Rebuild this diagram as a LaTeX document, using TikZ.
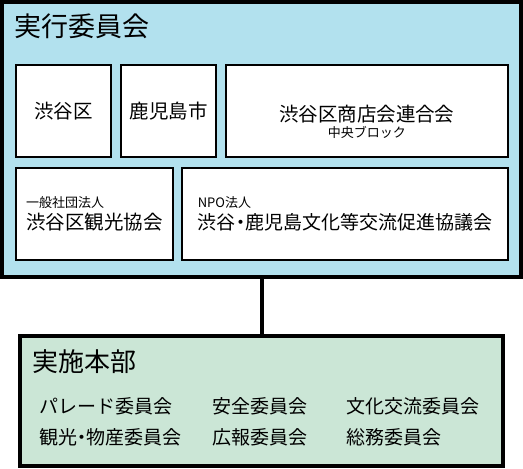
\documentclass[tikz,border=0pt]{standalone}
\usepackage{fontspec}
\setmainfont{Noto Sans CJK JP}
\usetikzlibrary{positioning}
\definecolor{execblue}{RGB}{178,225,238}
\definecolor{teamgreen}{RGB}{203,230,214}

\begin{document}
\begin{tikzpicture}[x=1pt,y=-1pt,
    group_exec/.style ={rectangle, draw=black, line width=4pt, fill=execblue,
      inner sep=0pt, minimum width=519pt, minimum height=275pt},
    group_team/.style ={rectangle, draw=black, line width=4pt, fill=teamgreen,
      inner sep=0pt, minimum width=483pt, minimum height=130pt},
    block_member/.style ={rectangle, draw=black, line width=2pt, fill=white,
      inner sep=0pt, minimum height=92pt, align=center,
      font=\fontsize{19.5}{22.6}\selectfont},
    block_title/.style ={anchor=west, inner sep=0pt,
      font=\fontsize{27}{30}\selectfont},
    block_item/.style ={anchor=west, inner sep=0pt,
      font=\fontsize{19}{22}\selectfont},
    line/.style ={draw, line width=4pt}]
    \useasboundingbox (0,0) rectangle (523,469);
    % executive committee
    \node [group_exec] (exec) at (261.5,139.5) {};
    \node [block_title] (exec_title) at (14,26) {実行委員会};
    % members - row 1
    \node [block_member, minimum width=95pt, anchor=north west] (shibuya) at (15,64) {渋谷区};
    \node [block_member, minimum width=95pt, right=8pt of shibuya] (kagoshima) {鹿児島市};
    \node [block_member, minimum width=281.5pt, right=8pt of kagoshima] (shoutengai) {};
    \node [align=center, inner sep=0pt, font=\fontsize{19.5}{15.8}\selectfont]
      (shoutengai_text) at ([yshift=-10.5pt]shoutengai.center)
      {渋谷区商店会連合会\\{\fontsize{13}{15}\selectfont 中央ブロック}};
    % members - row 2
    \node [block_member, minimum width=157pt, align=left,
      below right=9pt and 0pt of shibuya.south west] (kankou)
      {{\fontsize{13}{15}\selectfont 一般社団法人}\\渋谷区観光協会};
    \node [block_member, minimum width=326pt, align=left, right=7pt of kankou,
      font=\fontsize{19}{22.6}\selectfont] (npo)
      {{\fontsize{13}{15}\selectfont NPO法人}\\渋谷{\addfontfeature{RawFeature=+palt}・}鹿児島文化等交流促進協議会};
    % implementation headquarters
    \node [group_team] (team) at (261.5,401) {};
    \node [block_title, font=\fontsize{26}{30}\selectfont] (team_title) at (32,361.5) {実施本部};
    \node [block_item] (parade) at (39,406) {パレード委員会};
    \node [block_item] (safety) at (212,406) {安全委員会};
    \node [block_item] (culture) at (346,406) {文化交流委員会};
    \node [block_item] (bussan) at (39,437.5) {観光{\addfontfeature{RawFeature=+palt}・}物産委員会};
    \node [block_item] (pr) at (212,437.5) {広報委員会};
    \node [block_item] (soumu) at (346,437.5) {総務委員会};
    % connecting the two groups
    \path [line] (exec) -- (team);
\end{tikzpicture}
\end{document}
